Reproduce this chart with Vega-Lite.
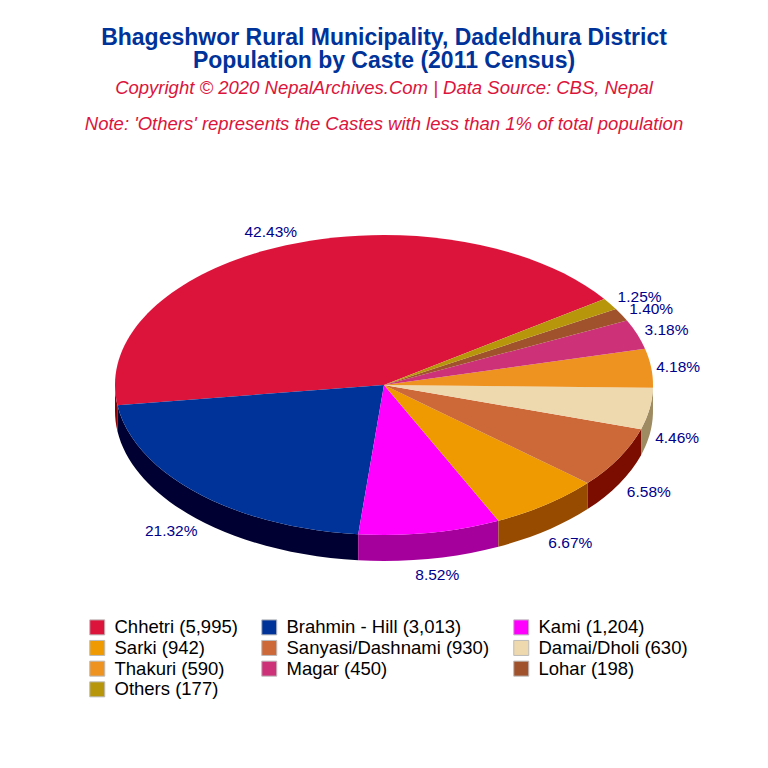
{
"$schema":"https://vega.github.io/schema/vega-lite/v6.json",
"width":768,"height":490,
"autosize":{"type":"pad"},
"padding":{"left":0,"right":0,"top":26,"bottom":0},
"background":"white",
"title":{"text":["Bhageshwor Rural Municipality, Dadeldhura District","Population by Caste (2011 Census)"],
"subtitle":["Copyright © 2020 NepalArchives.Com | Data Source: CBS, Nepal","Note: 'Others' represents the Castes with less than 1% of total population"],
"font":"Liberation Sans","fontSize":23,"fontWeight":"bold","color":"#003399","lineHeight":23,
"subtitleFont":"Liberation Sans","subtitleFontSize":18.5,"subtitleFontStyle":"italic","subtitleColor":"#DC143C","subtitleLineHeight":36.5,"subtitlePadding":6,
"anchor":"middle","frame":"group","offset":6.5},
"data":{"values":[
{"caste":"Chhetri","population":5995,"share":0.4243,"label":"Chhetri (5,995)"},
{"caste":"Brahmin - Hill","population":3013,"share":0.2132,"label":"Brahmin - Hill (3,013)"},
{"caste":"Kami","population":1204,"share":0.0852,"label":"Kami (1,204)"},
{"caste":"Sarki","population":942,"share":0.0667,"label":"Sarki (942)"},
{"caste":"Sanyasi/Dashnami","population":930,"share":0.0658,"label":"Sanyasi/Dashnami (930)"},
{"caste":"Damai/Dholi","population":630,"share":0.0446,"label":"Damai/Dholi (630)"},
{"caste":"Thakuri","population":590,"share":0.0418,"label":"Thakuri (590)"},
{"caste":"Magar","population":450,"share":0.0318,"label":"Magar (450)"},
{"caste":"Lohar","population":198,"share":0.014,"label":"Lohar (198)"},
{"caste":"Others","population":177,"share":0.0125,"label":"Others (177)"}
]},
"layer":[
{"transform":[{"filter":"datum.population >= 590"}],
"mark":{"type":"point","filled":true,"opacity":1,"size":4,"strokeWidth":0},
"encoding":{
"shape":{"field":"caste","type":"nominal","legend":null,"scale":{
"domain":["Chhetri","Brahmin - Hill","Kami","Sarki","Sanyasi/Dashnami","Damai/Dholi","Thakuri"],
"range":[
"M-269 0A269 150 0 0 0 -266.54 20.23L-266.54 46.23A269 150 0 0 1 -269 26Z",
"M-266.54 20.23A269 150 0 0 0 -25.78 149.31L-25.78 175.31A269 150 0 0 1 -266.54 46.23Z",
"M-25.78 149.31A269 150 0 0 0 114.4 135.75L114.4 161.75A269 150 0 0 1 -25.78 175.31Z",
"M114.4 135.75A269 150 0 0 0 203.6 98.07L203.6 124.07A269 150 0 0 1 114.4 161.75Z",
"M203.6 98.07A269 150 0 0 0 257.07 44.18L257.07 70.18A269 150 0 0 1 203.6 124.07Z",
"M257.07 44.18A269 150 0 0 0 268.95 2.8L268.95 28.8A269 150 0 0 1 257.07 70.18Z",
"M268.95 2.8A269 150 0 0 0 269 0L269 26A269 150 0 0 1 268.95 28.8Z"
]}},
"fill":{"field":"caste","type":"nominal","legend":null,"scale":{
"domain":["Chhetri","Brahmin - Hill","Kami","Sarki","Sanyasi/Dashnami","Damai/Dholi","Thakuri"],
"range":["#8B0000","#000033","#A6009C","#964B00","#7A0C00","#9E8B62","#8F5A14"]}}
}},
{"mark":{"type":"point","filled":true,"opacity":1,"size":4,"strokeWidth":0},
"encoding":{
"shape":{"field":"caste","type":"nominal","legend":null,"scale":{
"domain":["Chhetri","Brahmin - Hill","Kami","Sarki","Sanyasi/Dashnami","Damai/Dholi","Thakuri","Magar","Lohar","Others"],
"range":[
"M0 0L220.35 -86.04A269 150 0 0 0 -266.54 20.23Z",
"M0 0L-266.54 20.23A269 150 0 0 0 -25.78 149.31Z",
"M0 0L-25.78 149.31A269 150 0 0 0 114.4 135.75Z",
"M0 0L114.4 135.75A269 150 0 0 0 203.6 98.07Z",
"M0 0L203.6 98.07A269 150 0 0 0 257.07 44.18Z",
"M0 0L257.07 44.18A269 150 0 0 0 268.95 2.8Z",
"M0 0L268.95 2.8A269 150 0 0 0 261.03 -36.24Z",
"M0 0L261.03 -36.24A269 150 0 0 0 242.96 -64.39Z",
"M0 0L242.96 -64.39A269 150 0 0 0 231.88 -76.04Z",
"M0 0L231.88 -76.04A269 150 0 0 0 220.35 -86.04Z"
]}},
"fill":{"field":"label","type":"nominal","sort":null,
"scale":{"range":["#DC143C","#003399","#FF00FF","#EE9A00","#CD6839","#EED8AE","#EE9220","#CD3278","#A0522D","#B8960C"]},
"legend":{"title":null,"orient":"none","legendX":88,"legendY":478,"direction":"horizontal","columns":3,"padding":0,
"symbolType":"square","symbolSize":225,"symbolStrokeColor":"#BBBBBB","symbolStrokeWidth":1,"symbolOpacity":1,
"labelFont":"Liberation Sans","labelFontSize":18.5,"labelColor":"#000000","labelOffset":8,"labelLimit":300,
"columnPadding":21,"rowPadding":0.7}}
}},
{"transform":[
{"window":[{"op":"sum","field":"share","as":"cum"}],"sort":[{"field":"population","order":"descending"}]},
{"calculate":"(35+360*(datum.cum-datum.share/2))*PI/180","as":"mid"},
{"calculate":"384+(294+18*abs(sin(datum.mid)))*cos(datum.mid)","as":"lx"},
{"calculate":"246-165*sin(datum.mid)+(sin(datum.mid)<0?26:0)","as":"ly"}
],
"mark":{"type":"text","font":"Liberation Sans","fontSize":15.5,"color":"#00008B","align":"center","baseline":"middle"},
"encoding":{
"x":{"field":"lx","type":"quantitative","scale":null},
"y":{"field":"ly","type":"quantitative","scale":null},
"text":{"field":"share","type":"quantitative","format":".2%"}
}}
],
"resolve":{"scale":{"fill":"independent","shape":"independent"}},
"config":{"view":{"stroke":null}}
}
